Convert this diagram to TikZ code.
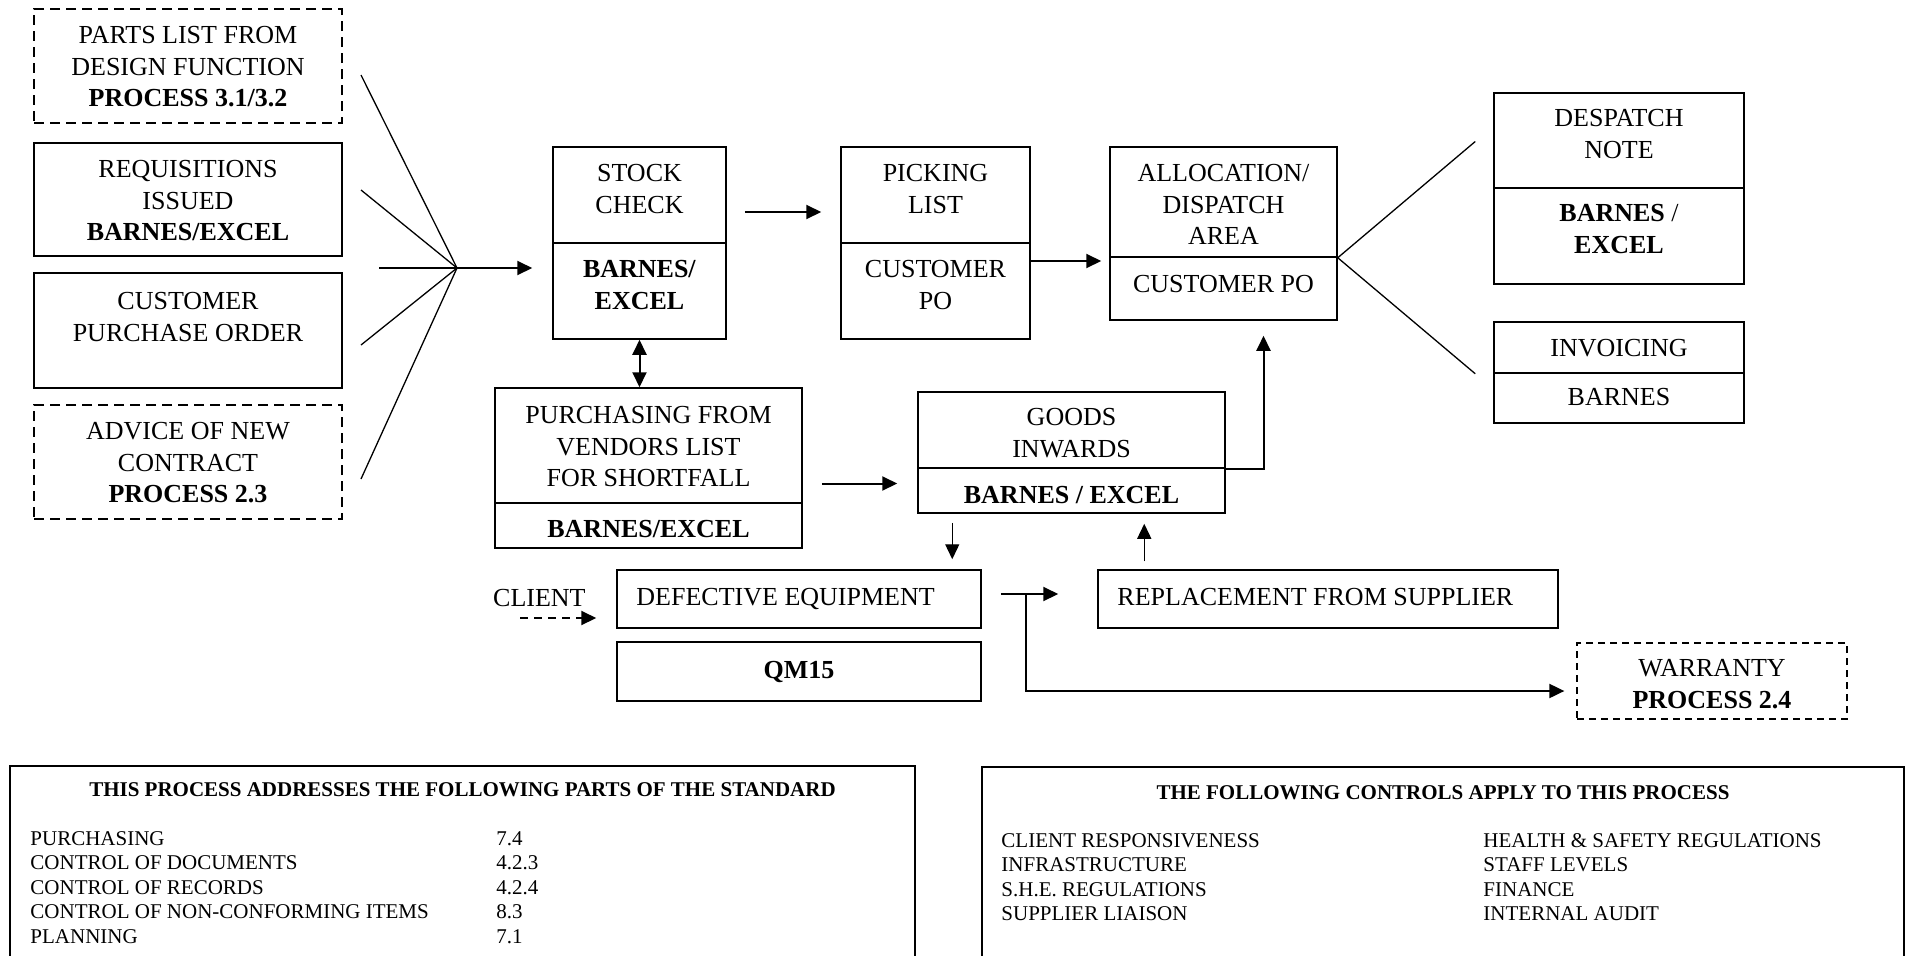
\documentclass[tikz,border=0pt]{standalone}
\usepackage{fontspec}
\setmainfont{Liberation Serif}
\usetikzlibrary{arrows.meta, positioning, calc}

\tikzset{
  box/.style={draw, line width=1.5pt, inner sep=0pt},
  dbox/.style={box, dash pattern=on 10pt off 6pt},
  txt/.style={inner sep=0pt, align=center, font=\fontsize{26}{31.5}\selectfont},
  btxt/.style={inner sep=0pt, align=left, font=\fontsize{21}{24.5}\selectfont},
  arr/.style={line width=2pt, ->},
  fan/.style={line width=1.3pt},
}

\begin{document}
\begin{tikzpicture}[x=1pt, y=-1pt, >={Triangle[length=15pt,width=14pt]}]
\useasboundingbox (0,0) rectangle (1907,956);
\clip (0,0) rectangle (1907,956);

% boxes: name/centre x/centre y/width/height
\foreach \nm/\cx/\cy/\w/\h in {
req/188/199.5/308/113, cust/188/330.5/308/115,
stock/639.5/195/173/96, stockdb/639.5/291/173/96,
pick/935.5/195/189/96, pickdb/935.5/291/189/96,
alloc/1223.5/202/227/110, allocdb/1223.5/288.5/227/63,
desp/1619/140.5/250/95, despdb/1619/236/250/96,
inv/1619/347.5/250/51, invdb/1619/398/250/50,
purch/648.5/445.5/307/115, purchdb/648.5/525.5/307/45,
goods/1071.5/430/307/76, goodsdb/1071.5/490.5/307/45,
defect/799/599/364/58, qm/799/671.5/364/59,
repl/1328/599/460/58,
stdbox/462.5/883/905/234, ctlbox/1443/883.5/922/233
}{
\node[box, minimum width=\w, minimum height=\h] (\nm) at (\cx,\cy) {};
}
\node[dbox, minimum width=308, minimum height=114] (parts) at (188,66) {};
\node[dbox, minimum width=308, minimum height=114] (adv) at (188,462) {};
\node[dbox, line width=1.3pt, dash pattern=on 7pt off 5pt,
  minimum width=270, minimum height=76] (warr) at (1712,681) {};

% texts, hung from the top of each box
\node[txt, below=18pt of parts.north] (parts-t) {PARTS LIST FROM\\DESIGN FUNCTION\\\textbf{PROCESS 3.1/3.2}};
\node[txt, below=18pt of req.north] (req-t) {REQUISITIONS\\ISSUED\\\textbf{BARNES/EXCEL}};
\node[txt, below=20pt of cust.north] (cust-t) {CUSTOMER\\PURCHASE ORDER};
\node[txt, below=18pt of adv.north] (adv-t) {ADVICE OF NEW\\CONTRACT\\\textbf{PROCESS 2.3}};
\node[txt, below=18pt of stock.north] (stock-t) {STOCK\\CHECK};
\node[txt, below=18pt of stockdb.north] (stockdb-t) {\textbf{BARNES/}\\\textbf{EXCEL}};
\node[txt, below=18pt of pick.north] (pick-t) {PICKING\\LIST};
\node[txt, below=18pt of pickdb.north] (pickdb-t) {CUSTOMER\\PO};
\node[txt, below=18pt of alloc.north] (alloc-t) {ALLOCATION/\\DISPATCH\\AREA};
\node[txt, below=19pt of allocdb.north] (allocdb-t) {CUSTOMER PO};
\node[txt, below=17pt of desp.north] (desp-t) {DESPATCH\\NOTE};
\node[txt, below=17pt of despdb.north] (despdb-t) {\textbf{BARNES} /\\\textbf{EXCEL}};
\node[txt, below=18pt of inv.north] (inv-t) {INVOICING};
\node[txt, below=16pt of invdb.north] (invdb-t) {BARNES};
\node[txt, below=19pt of purch.north] (purch-t) {PURCHASING FROM\\VENDORS LIST\\FOR SHORTFALL};
\node[txt, below=18pt of purchdb.north] (purchdb-t) {\textbf{BARNES/EXCEL}};
\node[txt, below=17pt of goods.north] (goods-t) {GOODS\\INWARDS};
\node[txt, below=19pt of goodsdb.north] (goodsdb-t) {\textbf{BARNES / EXCEL}};
\node[txt, below right=19pt and 20pt of defect.north west] (defect-t) {DEFECTIVE EQUIPMENT};
\node[txt, below=20pt of qm.north] (qm-t) {\textbf{QM15}};
\node[txt, below right=19pt and 20pt of repl.north west] (repl-t) {REPLACEMENT FROM SUPPLIER};
\node[txt, below=17pt of warr.north] (warr-t) {WARRANTY\\\textbf{PROCESS 2.4}};
\node[txt, anchor=base west] (client) at (493,606) {CLIENT};

% inputs fanning into stock check
\coordinate (hub) at (457,268);
\coordinate (f0) at (379,268);
\foreach \i/\fy in {1/75,2/190,3/345,4/479}{
\coordinate (f\i) at (361,\fy);
\draw[fan] (f\i) -- (hub);
}
\draw[arr, shorten >=20pt] (f0) -- (f0 -| stockdb.west);

% main flow
\coordinate (sp) at ($(stock.east)+(0,17)$);
\draw[arr, shorten <=18pt, shorten >=19pt] (sp) -- (sp -| pick.west);
\coordinate (pa) at ($(pickdb.east)+(0,-30)$);
\draw[arr, shorten >=8pt] (pa) -- (pa -| alloc.west);
\draw[fan] (alloc.south east) -- ($(desp.west)+(-18,1)$);
\draw[fan] (alloc.south east) -- ($(inv.south west)+(-18,0)$);
\draw[arr, <->] (stockdb.south) -- (stockdb.south |- purch.north);
\coordinate (pg) at ($(purch.east)+(0,38)$);
\draw[arr, shorten <=19pt, shorten >=20pt] (pg) -- (pg -| goods.west);
\draw[arr, shorten >=15pt] (goods.south east) -| ($(allocdb.south)+(40,0)$);

% defective equipment loop
\coordinate (gd) at ($(goodsdb.south west)+(35,0)$);
\draw[arr, line width=1.4pt, shorten <=9pt, shorten >=10pt] (gd) -- (gd |- defect.north);
\coordinate (rg) at ($(repl.north west)+(47,0)$);
\draw[arr, line width=1.4pt, shorten <=8pt, shorten >=10pt] (rg) -- (rg |- goodsdb.south);
\coordinate (de) at ($(defect.east)+(0,-5)$);
\draw[arr, shorten <=19pt, shorten >=39pt] (de) -- (de -| repl.west);
\coordinate (wj) at ($(de)+(44,0)$);
\draw[arr, shorten >=12pt] (wj) |- ($(warr.west)+(0,10)$);
\coordinate (cl) at (520,618);
\draw[arr, dash pattern=on 8pt off 6pt, shorten >=20pt] (cl) -- (cl -| defect.west);

% standard and controls tables
\node[btxt, font=\fontsize{21}{24.5}\selectfont\bfseries, below=17pt of stdbox.north] (stdtitle)
  {THIS PROCESS ADDRESSES THE FOLLOWING PARTS OF THE STANDARD};
\node[btxt, below right=66pt and 21pt of stdbox.north west] (stditems)
  {PURCHASING\\CONTROL OF DOCUMENTS\\CONTROL OF RECORDS\\CONTROL OF NON-CONFORMING ITEMS\\PLANNING};
\node[btxt, anchor=north west] (stdnums) at ($(stditems.north west)+(466,0)$)
  {7.4\\4.2.3\\4.2.4\\8.3\\7.1};
\node[btxt, font=\fontsize{21}{24.5}\selectfont\bfseries, below=19pt of ctlbox.north] (ctltitle)
  {THE FOLLOWING CONTROLS APPLY TO THIS PROCESS};
\node[btxt, below right=67pt and 20pt of ctlbox.north west] (ctlleft)
  {CLIENT RESPONSIVENESS\\INFRASTRUCTURE\\S.H.E. REGULATIONS\\SUPPLIER LIAISON};
\node[btxt, anchor=north west] (ctlright) at ($(ctlleft.north west)+(482,0)$)
  {HEALTH \& SAFETY REGULATIONS\\STAFF LEVELS\\FINANCE\\INTERNAL AUDIT};
\end{tikzpicture}
\end{document}
